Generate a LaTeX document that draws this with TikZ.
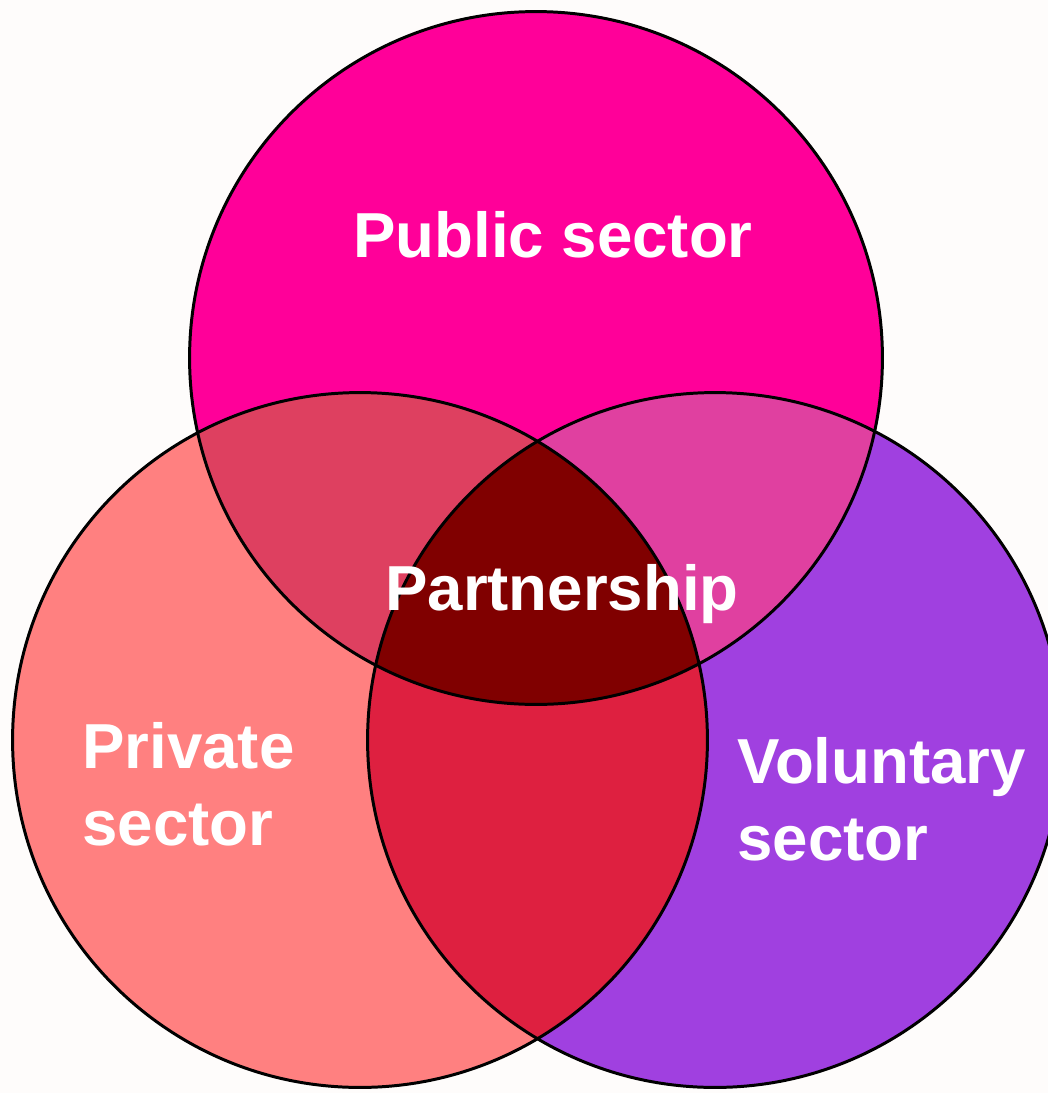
\documentclass[tikz,border=0pt]{standalone}
\usepackage{fontspec}
\setmainfont{Liberation Sans}
\usepackage{tikz}

\definecolor{pubcol}{HTML}{FF0099}
\definecolor{pricol}{HTML}{FF8080}
\definecolor{volcol}{HTML}{A040E0}
\definecolor{pubpri}{HTML}{DE4060}
\definecolor{pubvol}{HTML}{E040A0}
\definecolor{privol}{HTML}{DE2040}
\definecolor{allcol}{HTML}{800000}
\definecolor{bgcol}{HTML}{FEFCFB}

\begin{document}
\begin{tikzpicture}[x=0.02cm,y=-0.02cm,ring/.style={draw=black,line width=1.7pt},lbl/.style={text=white,font=\fontsize{36.2pt}{43.6pt}\selectfont\bfseries,inner sep=0pt}] %
    \clip (0,0) rectangle (1048,1093) ; %
    \fill[bgcol] (0,0) rectangle (1048,1093) ;
    \coordinate (pub) at (536,358) ; %
    \coordinate (pri) at (360,740) ;
    \coordinate (vol) at (715,740) ;
    \fill[pubcol] (pub) circle (6.93cm) ; %
    \fill[pricol] (pri) circle (6.95cm) ;
    \fill[volcol] (vol) circle (6.95cm) ;
    \begin{scope} \clip (pub) circle (6.93cm) ; \fill[pubpri] (pri) circle (6.95cm) ; \end{scope}
    \begin{scope} \clip (pub) circle (6.93cm) ; \fill[pubvol] (vol) circle (6.95cm) ; \end{scope}
    \begin{scope} \clip (pri) circle (6.95cm) ; \fill[privol] (vol) circle (6.95cm) ; \end{scope}
    \begin{scope} \clip (pub) circle (6.93cm) ; \clip (pri) circle (6.95cm) ; \fill[allcol] (vol) circle (6.95cm) ; \end{scope}
    \draw[ring] (pub) circle (6.93cm) ; %
    \draw[ring] (pri) circle (6.95cm) ;
    \draw[ring] (vol) circle (6.95cm) ;
    \node[lbl, anchor=base] (public) at (553,257) {Public sector} ; %
    \node[lbl, anchor=base] (partner) at (562,610) {Partnership} ;
    \node[lbl, anchor=base west, align=left] (private) at (82,845) {Private\\sector} ;
    \node[lbl, anchor=base west, align=left] (voluntary) at (737,860) {Voluntary\\sector} ;
  \end{tikzpicture}
\end{document}
